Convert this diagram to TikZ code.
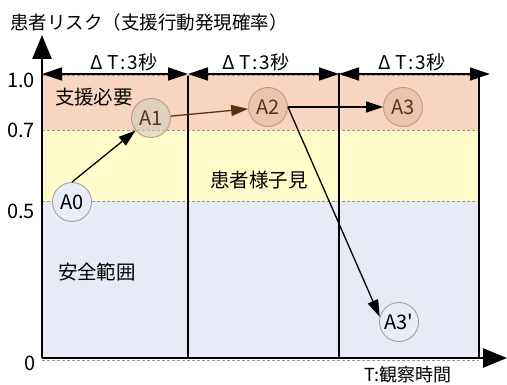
\documentclass[tikz,border=0pt]{standalone}
\usepackage{fontspec}
\setmainfont{Noto Sans CJK JP}
\usetikzlibrary{arrows.meta}
\definecolor{peach}{RGB}{249,212,190}
\definecolor{yel}{RGB}{255,251,202}
\definecolor{blu}{RGB}{230,235,245}
\definecolor{dashgrey}{RGB}{150,150,150}
\definecolor{brownline}{RGB}{90,50,20}
\definecolor{circpeach}{RGB}{236,196,172}
\definecolor{circbrown}{RGB}{190,152,128}
\definecolor{circgrey}{RGB}{160,160,160}
\definecolor{circblue}{RGB}{232,236,246}
\definecolor{circmix}{RGB}{205,205,185}
\tikzset{
  bandline/.style={dashgrey, dash pattern=on 3pt off 2pt, line width=0.8pt},
  axisline/.style={line width=2.6pt, -{Triangle[length=24pt,width=19pt]}},
  dtline/.style={line width=1.4pt, {Triangle[length=20pt,width=13pt]}-{Triangle[length=20pt,width=13pt]}},
  divline/.style={line width=1.6pt},
  state/.style={circle, minimum size=39pt, inner sep=0pt, line width=0.9pt, font=\fontsize{20}{20}\selectfont},
  conn/.style={line width=1.3pt, -{Triangle[length=17pt,width=11pt]}},
  jp/.style={font=\fontsize{19.5}{20}\selectfont, inner sep=0pt},
  num/.style={font=\fontsize{20}{20}\selectfont, inner sep=0pt},
  dtlabel/.style={font=\fontsize{19}{19}\selectfont, inner sep=0pt}
}
\begin{document}
\begin{tikzpicture}[x=1pt,y=-1pt]
\useasboundingbox (0,0) rectangle (507,385);
% bands
\fill[peach] (42,75) rectangle (479,130);
\fill[yel] (42,130) rectangle (479,201);
\fill[blu] (42,201) rectangle (479,358);
\draw[bandline] (42,75) -- (479,75);
\draw[bandline] (42,130) -- (479,130);
\draw[bandline] (42,201) -- (479,201);
\draw[bandline] (42,360) -- (479,360);
% coordinates
\coordinate (O) at (42,358);
\coordinate (ytop) at (42,35);
\coordinate (xend) at (507,358);
\coordinate (t0) at (42,74);
\coordinate (t1) at (188,74);
\coordinate (t2) at (339,74);
\coordinate (t3) at (490,74);
\coordinate (v1) at (188,76);
\coordinate (v2) at (339,73);
\coordinate (v3) at (479,76);
\coordinate (b1) at (188,358);
\coordinate (b2) at (339,358);
\coordinate (b3) at (479,358);
% divider lines
\draw[divline] (v1) -- (b1);
\draw[divline] (v2) -- (b2);
\draw[line width=1.3pt] (v3) -- (b3);
% delta T arrows
\draw[dtline] (t0) -- (t1);
\draw[dtline] (t1) -- (t2);
\draw[dtline] (t2) -- (t3);
\node[dtlabel] (dt1) at (124,62) {Δ\hspace{4pt}T\hspace{2pt}:\hspace{2pt}3秒};
\node[dtlabel] (dt2) at (256,62) {Δ\hspace{4pt}T\hspace{2pt}:\hspace{2pt}3秒};
\node[dtlabel] (dt3) at (412,62) {Δ\hspace{4pt}T\hspace{2pt}:\hspace{2pt}3秒};
% axes
\draw[axisline] (O) -- (ytop);
\draw[axisline] (O) -- (xend);
% title and axis labels
\node[anchor=west, font=\fontsize{18.5}{18}\selectfont, inner sep=0pt] (title) at (10,22) {患者リスク（支援行動発現確率）};
\node[anchor=east, font=\fontsize{18}{18}\selectfont, inner sep=0pt] (xlabel) at (452,375) {T:観察時間};
\node[num, anchor=east] (y10) at (35,80) {1.0};
\node[num, anchor=east] (y07) at (35,130) {0.7};
\node[num, anchor=east] (y05) at (35,211) {0.5};
\node[num, anchor=east] (y0) at (36,363) {0};
% region labels
\node[jp] (r1) at (94,97) {支援必要};
\node[jp] (r2) at (259,180) {患者様子見};
\node[jp] (r3) at (97,272) {安全範囲};
% states
\node[state, draw=circgrey, fill=circblue] (A0) at (72,202) {A0};
\node[state, draw=circbrown, fill=circmix, fill opacity=0.55, text opacity=1, text=brownline] (A1) at (151,118) {A1};
\node[state, draw=circbrown, fill=circpeach, text=brownline] (A2) at (268,107) {A2};
\node[state, draw=circbrown, fill=circpeach, text=brownline] (A3) at (403,107) {A3};
\node[state, draw=circgrey, fill=circblue] (A3p) at (399,322) {A3\textquotesingle};
% connectors
\draw[conn] (A0.north) -- (A1);
\draw[conn, brownline] (A1) -- (A2);
\draw[conn] (A2) -- (A3);
\draw[conn] (A2.east) -- (A3p.165);
\end{tikzpicture}
\end{document}
